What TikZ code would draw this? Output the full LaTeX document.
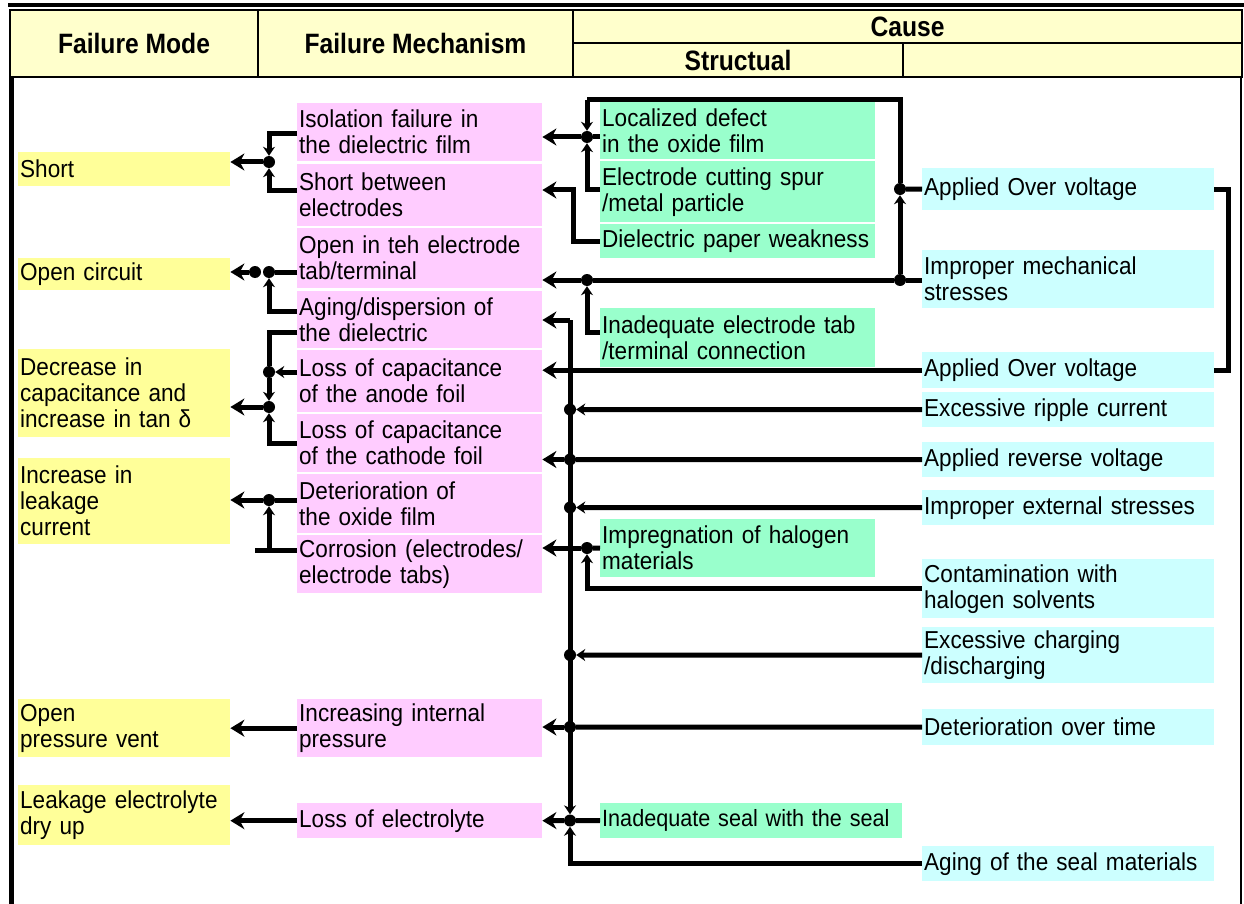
\documentclass[tikz,border=0pt]{standalone}
\usepackage{fontspec}
\setmainfont{Liberation Sans}[FakeStretch=0.92]
\newfontfamily\headfont{Liberation Sans}[FakeStretch=0.88]
\usetikzlibrary{arrows.meta}
\hyphenpenalty=10000

\definecolor{headfill}{HTML}{FFFFCC}
\definecolor{modefill}{HTML}{FFFF99}
\definecolor{mechfill}{HTML}{FFCCFF}
\definecolor{structfill}{HTML}{99FFCC}
\definecolor{causefill}{HTML}{CCFFFF}

\tikzset{
  headcell/.style={draw=black, line width=1.2pt, fill=headfill, inner sep=0pt,
    font=\headfont\bfseries\fontsize{28}{30}\selectfont},
  cbox/.style={anchor=north west, inner xsep=2pt, inner ysep=0pt, align=left,
    font=\fontsize{24.5}{26}\selectfont},
  modebox/.style={cbox, fill=modefill, text width=208pt},
  mechbox/.style={cbox, fill=mechfill, text width=241pt},
  structbox/.style={cbox, fill=structfill, text width=271pt},
  causebox/.style={cbox, fill=causefill, text width=288pt},
  link/.style={line width=5pt},
  arrow/.style={link, -{Stealth[length=14pt,width=17pt]}},
  tip/.style={link, -{Stealth[length=9pt,width=12pt]}},
  dot/.style={circle, fill=black, inner sep=0pt, minimum size=12pt},
}

\begin{document}
\begin{tikzpicture}[x=1pt, y=-1pt]
\useasboundingbox (0,0) rectangle (1244,904);

% frame and header
\draw[line width=4pt] (8,5) -- (1244,5);
\draw[line width=5pt] (11,77) -- (11,904);
\draw[line width=1.2pt] (1241,77) -- (1241,904);
\node[headcell, minimum width=248pt, minimum height=67pt] (hmode) at (134,43.5) {Failure Mode};
\node[headcell, minimum width=315pt, minimum height=67pt] (hmech) at (415.5,43.5) {Failure Mechanism};
\node[headcell, minimum width=669pt, minimum height=33pt] (hcause) at (907.5,26.5) {Cause};
\node[headcell, minimum width=330pt, minimum height=34pt] (hstruct) at (738,60) {Structual};
\node[headcell, minimum width=339pt, minimum height=34pt] (hother) at (1072.5,60) {};

% failure modes
\node[modebox, minimum height=34pt] (short) at (18,152) {Short};
\node[modebox, minimum height=32pt] (opencirc) at (18,258) {Open circuit};
\node[modebox, minimum height=88pt] (decrcap) at (18,349) {Decrease in\\capacitance and\\increase in tan δ};
\node[modebox, minimum height=86pt] (leakcur) at (18,458) {Increase in\\leakage\\current};
\node[modebox, minimum height=58pt] (ventopen) at (18,699) {Open\\pressure vent};
\node[modebox, minimum height=60pt] (dryup) at (18,785) {Leakage electrolyte\\dry up};

% failure mechanisms
\node[mechbox, minimum height=58pt] (isofail) at (297,103) {Isolation failure in\\the dielectric film};
\node[mechbox, minimum height=62pt] (shortel) at (297,164) {Short between\\electrodes};
\node[mechbox, minimum height=60pt] (opentab) at (297,228) {Open in teh electrode\\tab/terminal};
\node[mechbox, minimum height=57pt] (agingdiel) at (297,291) {Aging/dispersion of\\the dielectric};
\node[mechbox, minimum height=62pt] (lossanode) at (297,350) {Loss of capacitance\\of the anode foil};
\node[mechbox, minimum height=58pt] (losscath) at (297,414) {Loss of capacitance\\of the cathode foil};
\node[mechbox, minimum height=59pt] (oxidedet) at (297,474) {Deterioration of\\the oxide film};
\node[mechbox, minimum height=58pt] (corrosion) at (297,535) {Corrosion (electrodes/\\electrode tabs)};
\node[mechbox, minimum height=58pt] (pressure) at (297,699) {Increasing internal\\pressure};
\node[mechbox, minimum height=35pt] (electrolyte) at (297,803) {Loss of electrolyte};

% structural causes
\node[structbox, minimum height=57pt] (localdef) at (600,102) {Localized defect\\in the oxide film};
\node[structbox, minimum height=61pt] (spur) at (600,161) {Electrode cutting spur\\/metal particle};
\node[structbox, minimum height=34pt] (paper) at (600,224) {Dielectric paper weakness};
\node[structbox, minimum height=59pt] (tabconn) at (600,308) {Inadequate electrode tab\\/terminal connection};
\node[structbox, minimum height=58pt] (impreg) at (600,519) {Impregnation of halogen\\materials};
\node[structbox, text width=298pt, minimum height=35pt, font=\fontsize{23.5}{26}\selectfont] (seal) at (600,803) {Inadequate seal with the seal};

% other causes
\node[causebox, minimum height=42pt] (overvolt) at (922,168) {Applied Over voltage};
\node[causebox, minimum height=58pt] (mechstress) at (922,250) {Improper mechanical\\stresses};
\node[causebox, minimum height=36pt] (overvoltb) at (922,352) {Applied Over voltage};
\node[causebox, minimum height=35pt] (ripple) at (922,392) {Excessive ripple current};
\node[causebox, minimum height=35pt] (reverse) at (922,442) {Applied reverse voltage};
\node[causebox, minimum height=35pt] (extstress) at (922,490) {Improper external stresses};
\node[causebox, minimum height=59pt] (contam) at (922,559) {Contamination with\\halogen solvents};
\node[causebox, minimum height=56pt] (charging) at (922,627) {Excessive charging\\/discharging};
\node[causebox, minimum height=36pt] (overtime) at (922,709) {Deterioration over time};
\node[causebox, minimum height=35pt] (sealaging) at (922,846) {Aging of the seal materials};

% mechanism -> mode
\node[dot] (jshort) at (269,162) {};
\coordinate (isotap) at (297,134);
\coordinate (shorteltap) at (297,191);
\draw[tip] (isotap) -| (jshort);
\draw[tip] (shorteltap) -| (jshort);
\draw[arrow] (jshort) -- (short.east |- jshort);

\node[dot] (jopen) at (269,272) {};
\node[dot] (jopenb) at (255,272) {};
\coordinate (agingup) at (297,311);
\draw[link] (opentab.west |- jopen) -- (jopen);
\draw[tip] (agingup) -| (jopen);
\draw[arrow] (jopenb) -- (opencirc.east |- jopen);

\node[dot] (janode) at (269,372) {};
\node[dot] (jdecr) at (269,407) {};
\coordinate (agingdown) at (297,332);
\draw[link] (agingdown) -| (janode);
\draw[tip] (lossanode.west |- janode) -- (janode);
\draw[tip] (janode) -- (jdecr);
\draw[tip] (losscath.west) -| (jdecr);
\draw[arrow] (jdecr) -- (decrcap.east |- jdecr);

\node[dot] (jleak) at (269,500) {};
\coordinate (corrtap) at (297,550);
\coordinate (corrend) at (255,550);
\draw[link] (corrend) -- (corrtap);
\draw[tip] (jleak |- corrtap) -- (jleak);
\draw[link] (oxidedet.west |- jleak) -- (jleak);
\draw[arrow] (jleak) -- (leakcur.east |- jleak);

\draw[arrow] (pressure.west) -- (ventopen.east);
\draw[arrow] (electrolyte.west) -- (dryup.east |- electrolyte.west);

% cause -> mechanism
\coordinate (ovcorner) at (900,100);
\coordinate (loccorner) at (587,100);
\node[dot] (jover) at (900,189) {};
\node[dot] (jmech) at (900,280) {};
\node[dot] (jlocal) at (587,137) {};
\node[dot] (jtab) at (587,280) {};
\coordinate (spurtap) at (600,190);
\coordinate (tabtap) at (600,332);
\draw[link] (overvolt.west) -- (jover);
\draw[link] (jover) -- (ovcorner) -- (loccorner);
\draw[tip] (loccorner) -- (jlocal);
\draw[tip] (spurtap) -| (jlocal);
\draw[link] (localdef.west |- jlocal) -- (jlocal);
\draw[arrow] (jlocal) -- (isofail.east |- jlocal);
\draw[tip] (jmech) -- (jover);
\draw[link] (mechstress.west |- jmech) -- (jmech);
\draw[link] (jmech) -- (jtab);
\draw[tip] (tabtap) -| (jtab);
\draw[arrow] (jtab) -- (opentab.east |- jtab);

\coordinate (paperbend) at (573,190);
\draw[arrow] (paper.west) -| (paperbend) -- (shortel.east |- paperbend);

\draw[link] (overvolt.east) -- ++(14,0) |- (overvoltb.east);

\coordinate (bustop) at (570,320);
\node[dot] (jripple) at (570,409.5) {};
\node[dot] (jreverse) at (570,459.5) {};
\node[dot] (jext) at (570,507.5) {};
\node[dot] (jimpreg) at (587,548) {};
\node[dot] (jcharge) at (570,655) {};
\node[dot] (jtime) at (570,727) {};
\node[dot] (jseal) at (570,820.5) {};
\draw[arrow] (bustop) -- (agingdiel.east |- bustop);
\draw[tip] (bustop) -- (jseal);
\draw[tip] (sealaging.west) -| (jseal);
\draw[arrow] (overvoltb.west) -- (lossanode.east |- overvoltb.west);
\draw[tip] (ripple.west) -- (jripple);
\draw[link] (reverse.west) -- (jreverse);
\draw[arrow] (jreverse) -- (losscath.east |- jreverse);
\draw[tip] (extstress.west) -- (jext);
\draw[link] (impreg.west) -- (jimpreg);
\draw[arrow] (jimpreg) -- (corrosion.east |- jimpreg);
\draw[tip] (contam.west) -| (jimpreg);
\draw[tip] (charging.west) -- (jcharge);
\draw[link] (overtime.west) -- (jtime);
\draw[arrow] (jtime) -- (pressure.east |- jtime);
\draw[link] (seal.west) -- (jseal);
\draw[arrow] (jseal) -- (electrolyte.east);
\end{tikzpicture}
\end{document}
